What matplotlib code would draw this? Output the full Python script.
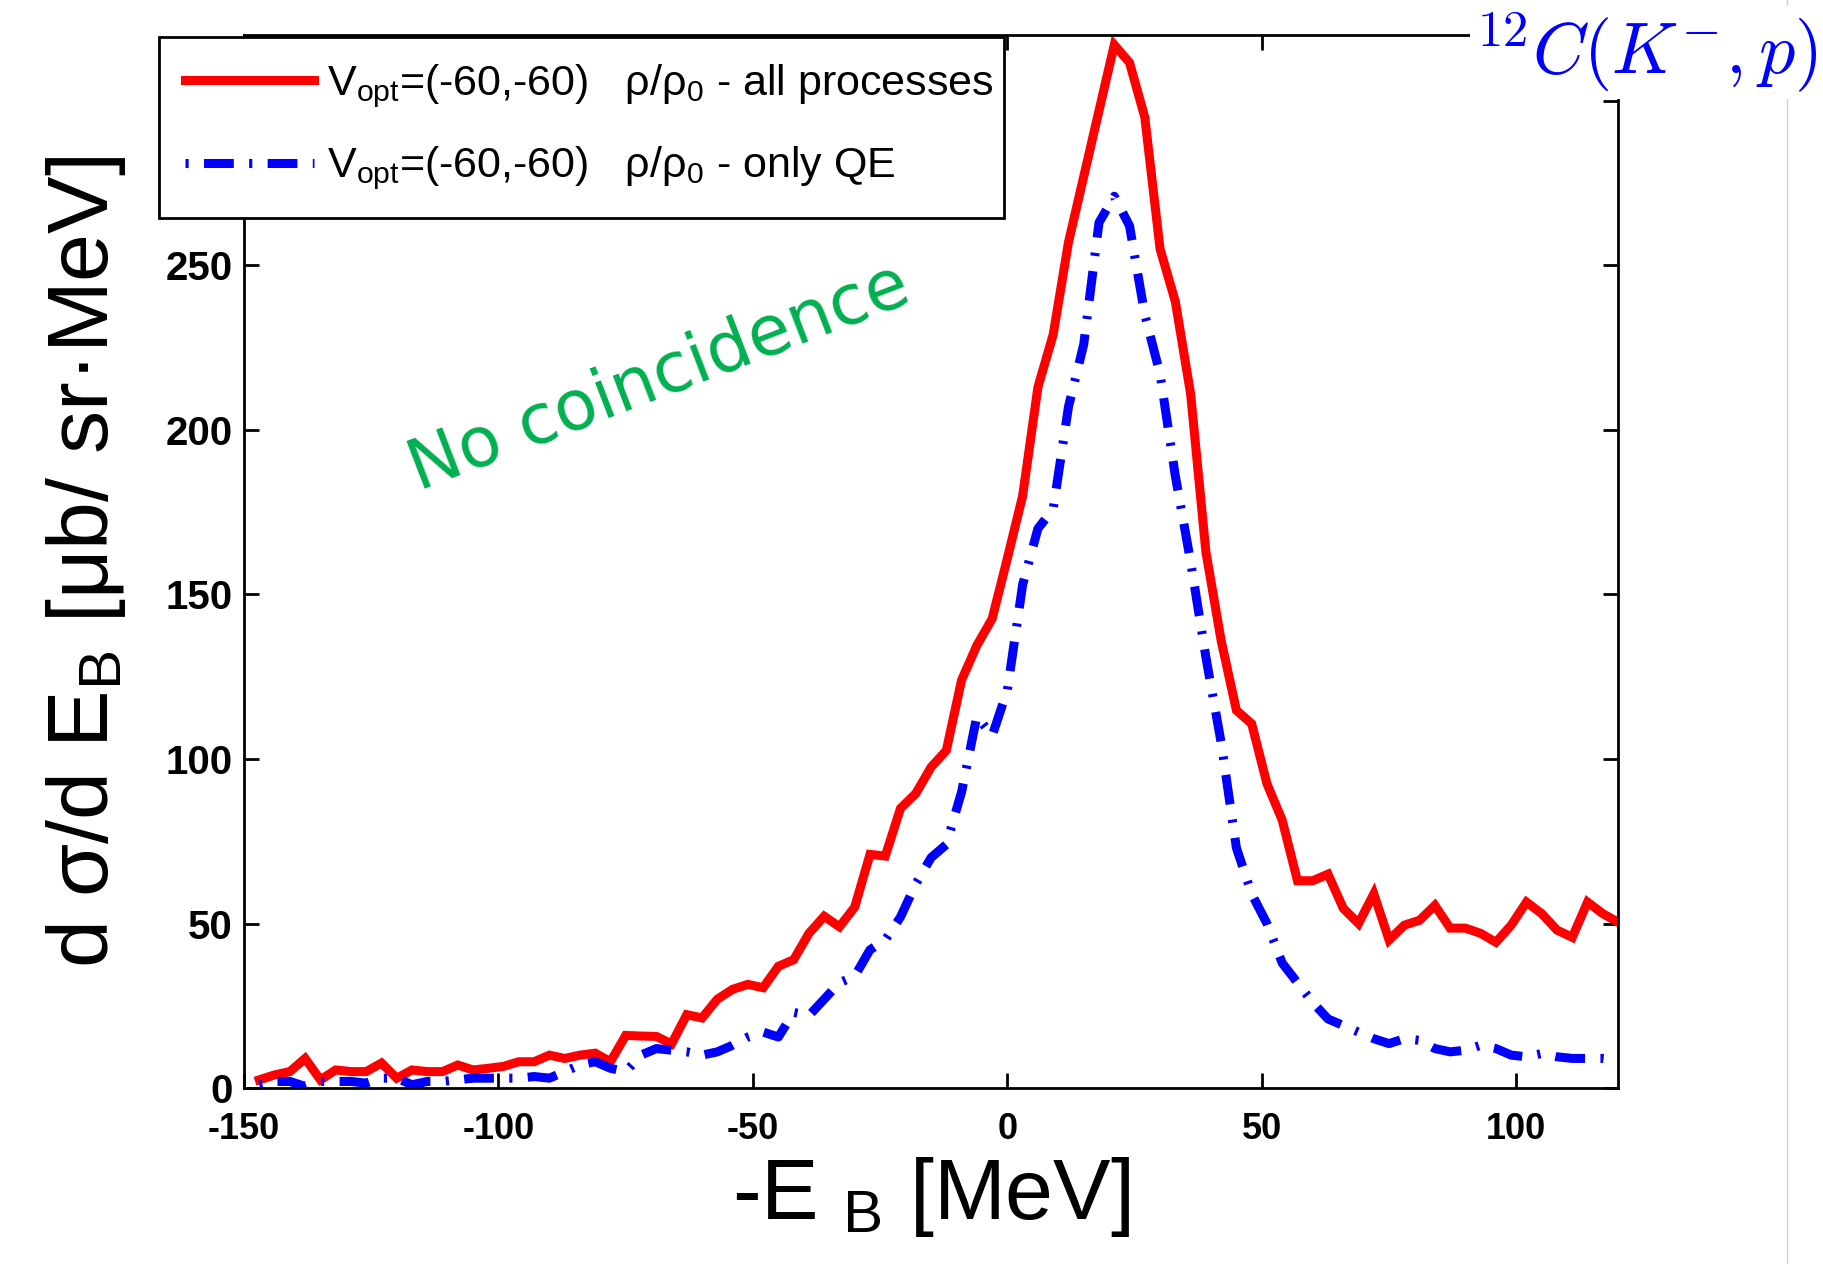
import numpy as np
import matplotlib
matplotlib.use('Agg')
import matplotlib.pyplot as plt
from matplotlib.lines import Line2D

plt.rcParams['font.family'] = ['Liberation Sans', 'DejaVu Sans']
plt.rcParams['mathtext.fontset'] = 'custom'
plt.rcParams['mathtext.rm'] = 'Liberation Sans'
plt.rcParams['mathtext.it'] = 'Liberation Sans:italic'
plt.rcParams['mathtext.bf'] = 'Liberation Sans:bold'
plt.rcParams['axes.unicode_minus'] = False

# binding energy grid, 3 MeV bins
energy = np.arange(-147, 121, 3)

# all processes
xs_all = [
    2.5, 4, 5, 9, 2.5, 5.5, 5, 5, 7.6, 3,
    5.5, 5, 5, 7, 5.5, 6, 6.6, 8, 8, 10,
    9, 10, 10.6, 8, 16, 15.8, 15.7, 13.4, 22.3, 21.3,
    27, 30, 31.5, 30.5, 37, 39, 47, 52.2, 49, 55,
    71, 70.5, 85, 89.5, 97.5, 102.6, 124, 134.5, 142.6,
    161, 180, 213, 229, 257, 277, 297, 317, 311.6, 295,
    255, 239, 211, 163, 136, 114.8, 110.7, 92.5, 81.4, 63,
    63, 65, 54.6, 50, 59, 45, 49.5, 51, 55.5, 48.6,
    48.6, 47, 44.3, 49.5, 56.5, 53, 48, 45.8, 56.5, 53,
    50.4,
]

# only quasi-elastic
xs_qe = [
    1, 2, 2, 0.5, 2, 2, 2, 1.5, 3, 3,
    1, 2, 2, 2.5, 3, 3, 3, 3, 3.5, 3,
    5, 7, 8, 6, 5, 10, 12, 11.5, 11, 10,
    11, 13, 15.5, 17, 15.5, 23, 22, 27, 32, 34,
    42, 45, 52, 62, 70, 74, 90, 113, 107,
    121, 153, 170, 176, 207, 226, 263, 271, 262, 235,
    217, 186, 160, 131, 105, 73, 59, 50, 38, 32,
    26, 21, 19, 17, 15, 13.5, 15, 14.5, 12, 11,
    11.5, 13, 12, 10, 9.5, 10.5, 9.5, 9, 9, 9,
    8.5,
]

labels = [
    r'V$_\mathregular{opt}$=(-60,-60)   ρ/ρ$_\mathregular{0}$ - all processes',
    r'V$_\mathregular{opt}$=(-60,-60)   ρ/ρ$_\mathregular{0}$ - only QE',
]
xticks = [-150, -100, -50, 0, 50, 100]
yticks = [0, 50, 100, 150, 200, 250, 300]

fig = plt.figure(figsize=(18.24, 12.64), dpi=100)
ax = fig.add_axes([0.1338, 0.1392, 0.7533, 0.8331])

ax.plot(energy, xs_all, color='#ff0000', lw=6.5, label=labels[0],
        solid_joinstyle='miter')
# matlab-ish '-.' : dot, gap, long dash, gap
ax.plot(energy, xs_qe, color='#0000ff', lw=6.5, label=labels[1],
        linestyle=(0, (0.35, 1.7, 3.3, 1.7)))

ax.set_xlim(-150, 120)
ax.set_ylim(0, 320)
ax.set_xticks(xticks)
ax.set_yticks(yticks)
ax.tick_params(direction='in', length=11, width=2, top=True, right=True)
ax.tick_params(axis='x', pad=17, labelsize=26)
ax.tick_params(axis='y', pad=8, labelsize=29)
for lab in ax.get_xticklabels() + ax.get_yticklabels():
    lab.set_fontweight('bold')
for sp in ax.spines.values():
    sp.set_linewidth(2)

ax.set_xlabel(r'-E $_\mathregular{B}$ [MeV]', fontsize=62, labelpad=6)
ax.set_ylabel(r'd σ/d E$_\mathregular{B}$ [μb/ sr·MeV]', fontsize=62,
              labelpad=27)

# legend box pinned to the reference frame (sticks out left of the axes)
leg = ax.legend(loc='upper left',
                bbox_to_anchor=(159 / 1824, 1 - 216 / 1264,
                                845 / 1824, 179 / 1264),
                bbox_transform=fig.transFigure, mode='expand',
                borderaxespad=0, fontsize=31, handlelength=3.0,
                handletextpad=0.3, borderpad=0.6, labelspacing=0.8,
                fancybox=False, framealpha=1, edgecolor='black')
leg.get_frame().set_linewidth(2)

ax.text(0.302, 0.674, 'No coincidence', transform=ax.transAxes,
        rotation=21, rotation_mode='anchor', ha='center', va='center',
        fontsize=50, color='#00b050', family='DejaVu Sans')

# screenshot edge line and reaction label
fig.add_artist(Line2D([0.9797, 0.9797], [0, 1], transform=fig.transFigure,
                      color='#d0d0d0', lw=1, zorder=1))
fig.text(0.9967, 1 - 74 / 1264, r'$^{12}C(K^{-},p)$', math_fontfamily='cm',
         fontsize=52, color='#0000ff', ha='right', va='baseline', zorder=5,
         bbox=dict(facecolor='white', edgecolor='none', pad=3))

fig.savefig('out.png', dpi=100)
